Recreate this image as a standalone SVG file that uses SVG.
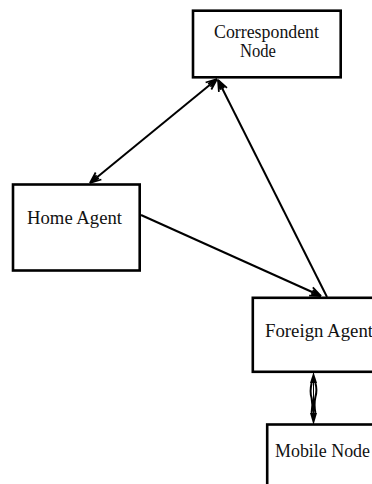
<svg xmlns="http://www.w3.org/2000/svg" width="372" height="484" viewBox="0 0 372 484">
  <style>
    .box { fill: #ffffff; stroke: #000000; stroke-width: 2.6; }
    .label { font-family: "Liberation Serif", "Times New Roman", serif; font-size: 18px; fill: #111111; }
    .edge { fill: none; stroke: #000000; stroke-width: 2; }
  </style>
  <defs>
    <marker id="barb" viewBox="-12 -6 14 12" refX="0" refY="0" markerWidth="14" markerHeight="12" markerUnits="userSpaceOnUse" orient="auto-start-reverse">
      <path d="M0,0 L-11,-4.5 M0,0 L-11,4.5 M0,0 L-10,-1.8 M0,0 L-10,1.8" fill="none" stroke="#000000" stroke-width="1.8"/>
    </marker>
  </defs>

  <g id="correspondent-node">
    <rect class="box" x="193" y="10.7" width="147.7" height="66.6"/>
    <text class="label" x="214" y="38" textLength="105" lengthAdjust="spacingAndGlyphs">Correspondent</text>
    <text class="label" x="240" y="56.5" textLength="36" lengthAdjust="spacingAndGlyphs">Node</text>
  </g>

  <g id="home-agent">
    <rect class="box" x="13" y="184.5" width="126.7" height="86"/>
    <text class="label" x="27" y="224" textLength="95" lengthAdjust="spacingAndGlyphs">Home Agent</text>
  </g>

  <g id="foreign-agent">
    <rect class="box" x="252.8" y="297.8" width="130" height="74"/>
    <text class="label" x="265" y="336.5" textLength="108" lengthAdjust="spacingAndGlyphs">Foreign Agent</text>
  </g>

  <g id="mobile-node">
    <rect class="box" x="267.2" y="424.5" width="120" height="70"/>
    <text class="label" x="275" y="456.5" textLength="95" lengthAdjust="spacingAndGlyphs">Mobile Node</text>
  </g>

  <g id="connectors">
    <line class="edge" x1="90" y1="183" x2="217" y2="79" marker-start="url(#barb)" marker-end="url(#barb)"/>
    <line class="edge" x1="327" y1="297" x2="218" y2="80" marker-end="url(#barb)"/>
    <line class="edge" x1="141" y1="215" x2="321" y2="296" marker-end="url(#barb)"/>
    <!-- two-way link between foreign agent and mobile node: paired heads with a twisted double shaft -->
    <path d="M313.5,372 L317,383 L310,383 Z" fill="#000000"/>
    <path d="M313.5,425 L317,413 L310,413 Z" fill="#000000"/>
    <path d="M311.6,383 Q309.6,392 311.6,398 Q313.2,405 311.6,413" fill="none" stroke="#000000" stroke-width="2"/>
    <path d="M315.4,383 Q317.4,390 315.4,397 Q313.8,404 315.4,413" fill="none" stroke="#000000" stroke-width="2"/>
    <line x1="313.5" y1="372" x2="313.5" y2="425" stroke="#000000" stroke-width="1"/>
  </g>
</svg>
